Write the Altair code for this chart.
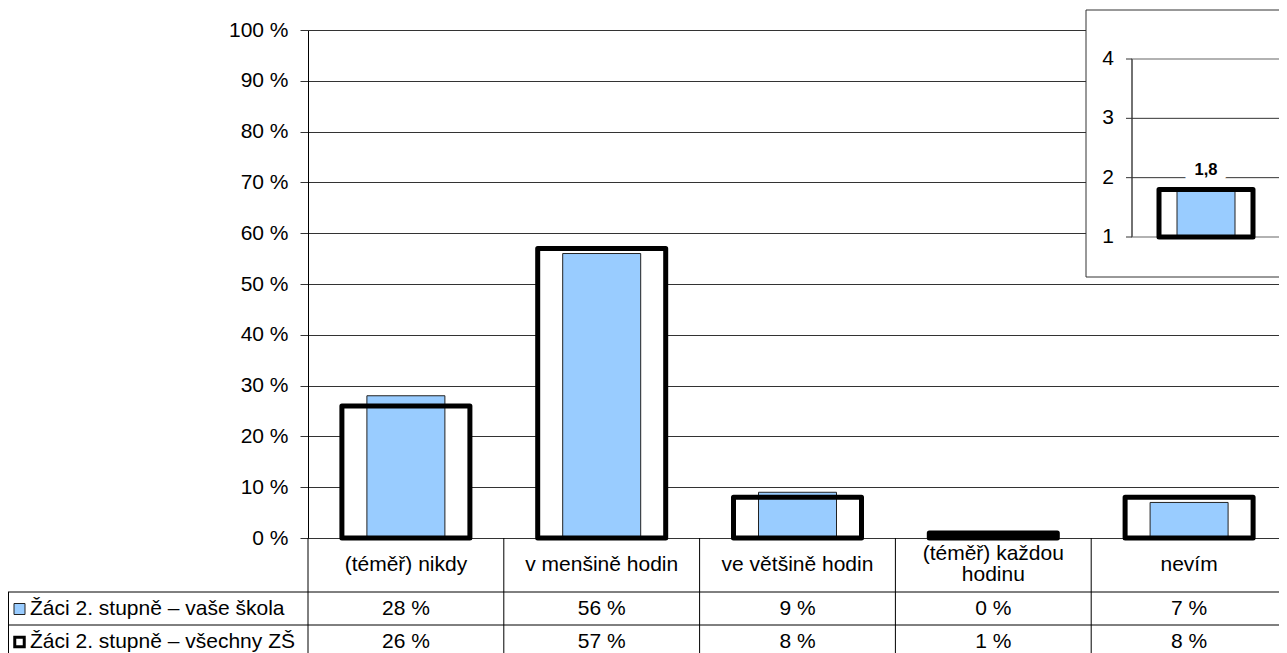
import altair as alt
import pandas as pd

# ---------------- data ----------------
categories = ["(téměř) nikdy", "v menšině hodin", "ve většině hodin",
              "(téměř) každou\nhodinu", "nevím"]
skola = [28, 56, 9, 0, 7]          # Žáci 2. stupně – vaše škola
vsechny = [26, 57, 8, 1, 8]        # Žáci 2. stupně – všechny ZŠ
series_names = ["Žáci 2. stupně – vaše škola", "Žáci 2. stupně – všechny ZŠ"]
y_ticks = [0, 10, 20, 30, 40, 50, 60, 70, 80, 90, 100]

inset_skola = [1.8]
inset_vsechny = [1.8]
inset_ticks = [1, 2, 3, 4]
inset_grid = [2, 3]

FONT = "Liberation Sans"
BLUE = "#99CCFF"
DARK = "#333333"
FS = 21

W, H = 971, 508      # visible plot area (page x 308..1279)
FULLW = 979          # category band range (page x 308..1287)

df = pd.DataFrame({"cat": categories, "skola": skola, "vsechny": vsechny})
df["skola_txt"] = [f"{v} %" for v in skola]
df["vsechny_txt"] = [f"{v} %" for v in vsechny]
df["multi"] = [("\n" in c) for c in categories]

xscale = alt.Scale(domain=categories, range=[0, FULLW], paddingInner=0, paddingOuter=0)
xs = alt.X("cat:N", sort=categories, axis=None, scale=xscale)
yaxis = alt.Axis(values=y_ticks, labelExpr="datum.value + ' %'", title=None,
                 grid=True, gridColor=DARK, gridWidth=1, tickColor=DARK,
                 tickSize=8, domainColor="#000", labelFont=FONT,
                 labelFontSize=FS, labelColor="#000", labelPadding=12)
yscale = alt.Scale(domain=[0, 100], nice=False)

base = alt.Chart(df)

out_fill = base.mark_bar(size=128, fill="white", strokeWidth=0).encode(
    x=xs, y=alt.Y("vsechny:Q", scale=yscale, axis=yaxis))
blue = base.mark_bar(size=78, fill=BLUE, stroke="#222", strokeWidth=1).encode(
    x=xs, y=alt.Y("skola:Q", scale=yscale, axis=yaxis))
out_stroke = base.mark_bar(size=128, fillOpacity=0, stroke="#000",
                           strokeWidth=5, strokeJoin="round").encode(
    x=xs, y=alt.Y("vsechny:Q", scale=yscale, axis=yaxis))

# ---------------- table ----------------
dividers = base.mark_rule(color="#000", strokeWidth=1).encode(
    x=alt.X("cat:N", sort=categories, axis=None, scale=xscale, bandPosition=0),
    y=alt.value(H), y2=alt.value(H + 140))

header1 = base.transform_filter("!datum.multi").mark_text(
    font=FONT, fontSize=FS, color="#000", baseline="middle", align="center").encode(
    x=xs, text="cat:N", y=alt.value(H + 27))
header2 = base.transform_filter("datum.multi").mark_text(
    font=FONT, fontSize=FS, color="#000", lineBreak="\n", lineHeight=21,
    baseline="middle", align="center").encode(
    x=xs, text="cat:N", y=alt.value(H + 16))
row1 = base.mark_text(font=FONT, fontSize=FS, color="#000", baseline="middle").encode(
    x=xs, text="skola_txt:N", y=alt.value(H + 71))
row2 = base.mark_text(font=FONT, fontSize=FS, color="#000", baseline="middle").encode(
    x=xs, text="vsechny_txt:N", y=alt.value(H + 104))

hlines_df = pd.DataFrame({"row": [0, 1]})
hline1 = alt.Chart(hlines_df).transform_filter("datum.row == 0").mark_rule(
    color="#000", strokeWidth=1).encode(
    x=alt.value(-300), x2=alt.value(W), y=alt.value(H + 54))
hline2 = alt.Chart(hlines_df).transform_filter("datum.row == 1").mark_rule(
    color="#000", strokeWidth=1).encode(
    x=alt.value(-300), x2=alt.value(W), y=alt.value(H + 87))
leftline = alt.Chart(hlines_df).transform_filter("datum.row == 0").mark_rule(
    color="#000", strokeWidth=1).encode(
    x=alt.value(-299.5), y=alt.value(H + 54), y2=alt.value(H + 140))

leg_df = pd.DataFrame({"name": series_names, "idx": [0, 1]})
leg_text1 = alt.Chart(leg_df).transform_filter("datum.idx == 0").mark_text(
    font=FONT, fontSize=FS, color="#000", align="left", baseline="middle").encode(
    text="name:N", x=alt.value(-278), y=alt.value(H + 71))
leg_text2 = alt.Chart(leg_df).transform_filter("datum.idx == 1").mark_text(
    font=FONT, fontSize=FS, color="#000", align="left", baseline="middle").encode(
    text="name:N", x=alt.value(-278), y=alt.value(H + 104))
leg_sym1 = alt.Chart(leg_df).transform_filter("datum.idx == 0").mark_square(
    size=121, fill=BLUE, stroke="#222", strokeWidth=1, opacity=1).encode(
    x=alt.value(-288.5), y=alt.value(H + 71))
leg_sym2 = alt.Chart(leg_df).transform_filter("datum.idx == 1").mark_square(
    size=90, fill="white", stroke="#000", strokeWidth=3, opacity=1).encode(
    x=alt.value(-288.5), y=alt.value(H + 104))

main = alt.layer(out_fill, blue, out_stroke, dividers, header1, header2, row1, row2,
                 hline1, hline2, leftline, leg_sym1, leg_sym2,
                 leg_text1, leg_text2)

# ---------------- inset ----------------
idf = pd.DataFrame({"k": ["a"], "skola": inset_skola, "vsechny": inset_vsechny,
                    "lbl": [str(v).replace(".", ",") for v in inset_skola]})
tdf = pd.DataFrame({"t": inset_ticks})
gdf = pd.DataFrame({"t": inset_grid})

IX0, IX1, IY0, IY1 = 824, 972, 207, 29
ixscale = alt.Scale(domain=["a"], range=[IX0, IX1], paddingInner=0, paddingOuter=0)
iyscale = alt.Scale(domain=[1, 4], range=[IY0, IY1], nice=False, zero=False)
ix = alt.X("k:N", axis=None, scale=ixscale)

box = alt.Chart(idf).mark_rect(fill="white", stroke=DARK, strokeWidth=1).encode(
    x=alt.value(778), x2=alt.value(995), y=alt.value(-20), y2=alt.value(247))
plot_border = alt.Chart(idf).mark_rect(fillOpacity=0, stroke="#999", strokeWidth=1.5).encode(
    x=alt.value(IX0), x2=alt.value(IX1), y=alt.value(IY1), y2=alt.value(IY0))
igrid = alt.Chart(gdf).mark_rule(color=DARK, strokeWidth=1).encode(
    y=alt.Y("t:Q", scale=iyscale, axis=None), x=alt.value(IX0), x2=alt.value(IX1))
iaxis = alt.Chart(idf).mark_rule(color=DARK, strokeWidth=1).encode(
    x=alt.value(IX0), y=alt.value(IY1), y2=alt.value(IY0))
iticks = alt.Chart(tdf).mark_rule(color=DARK, strokeWidth=1).encode(
    y=alt.Y("t:Q", scale=iyscale, axis=None), x=alt.value(IX0 - 6), x2=alt.value(IX0))
ilabels = alt.Chart(tdf).mark_text(font=FONT, fontSize=FS, color="#000",
                                   align="right", baseline="middle").encode(
    y=alt.Y("t:Q", scale=iyscale, axis=None), x=alt.value(806), text="t:Q")
halo = alt.Chart(idf).mark_text(font=FONT, fontSize=16.5, fontWeight="bold",
                                color="white", stroke="white", strokeWidth=20,
                                dy=-20).encode(
    x=ix, y=alt.Y("skola:Q", scale=iyscale, axis=None), text="lbl:N")
i_out_fill = alt.Chart(idf).mark_bar(size=94, fill="white", strokeWidth=0).encode(
    x=ix, y=alt.Y("vsechny:Q", scale=iyscale, axis=None), y2=alt.datum(1))
i_blue = alt.Chart(idf).mark_bar(size=58, fill=BLUE, stroke="#222", strokeWidth=1).encode(
    x=ix, y=alt.Y("skola:Q", scale=iyscale, axis=None), y2=alt.datum(1))
i_out_stroke = alt.Chart(idf).mark_bar(size=94, fillOpacity=0, stroke="#000",
                                       strokeWidth=5, strokeJoin="round").encode(
    x=ix, y=alt.Y("vsechny:Q", scale=iyscale, axis=None), y2=alt.datum(1))
ilabel = alt.Chart(idf).mark_text(font=FONT, fontSize=16.5, fontWeight="bold",
                                  color="#000", dy=-20).encode(
    x=ix, y=alt.Y("skola:Q", scale=iyscale, axis=None), text="lbl:N")

inset = alt.layer(box, plot_border, igrid, halo, i_out_fill, i_blue, i_out_stroke,
                  iaxis, iticks, ilabels, ilabel)

chart = alt.layer(main, inset).resolve_scale(
    x="independent", y="independent"
).properties(
    width=W, height=H,
    autosize=alt.AutoSizeParams(type="none"),
    padding={"left": 300, "top": 22, "right": 0, "bottom": 115},
    background="white",
).configure_view(stroke=None)

chart.save("out.html", embed_options={"renderer": "svg", "actions": False})
